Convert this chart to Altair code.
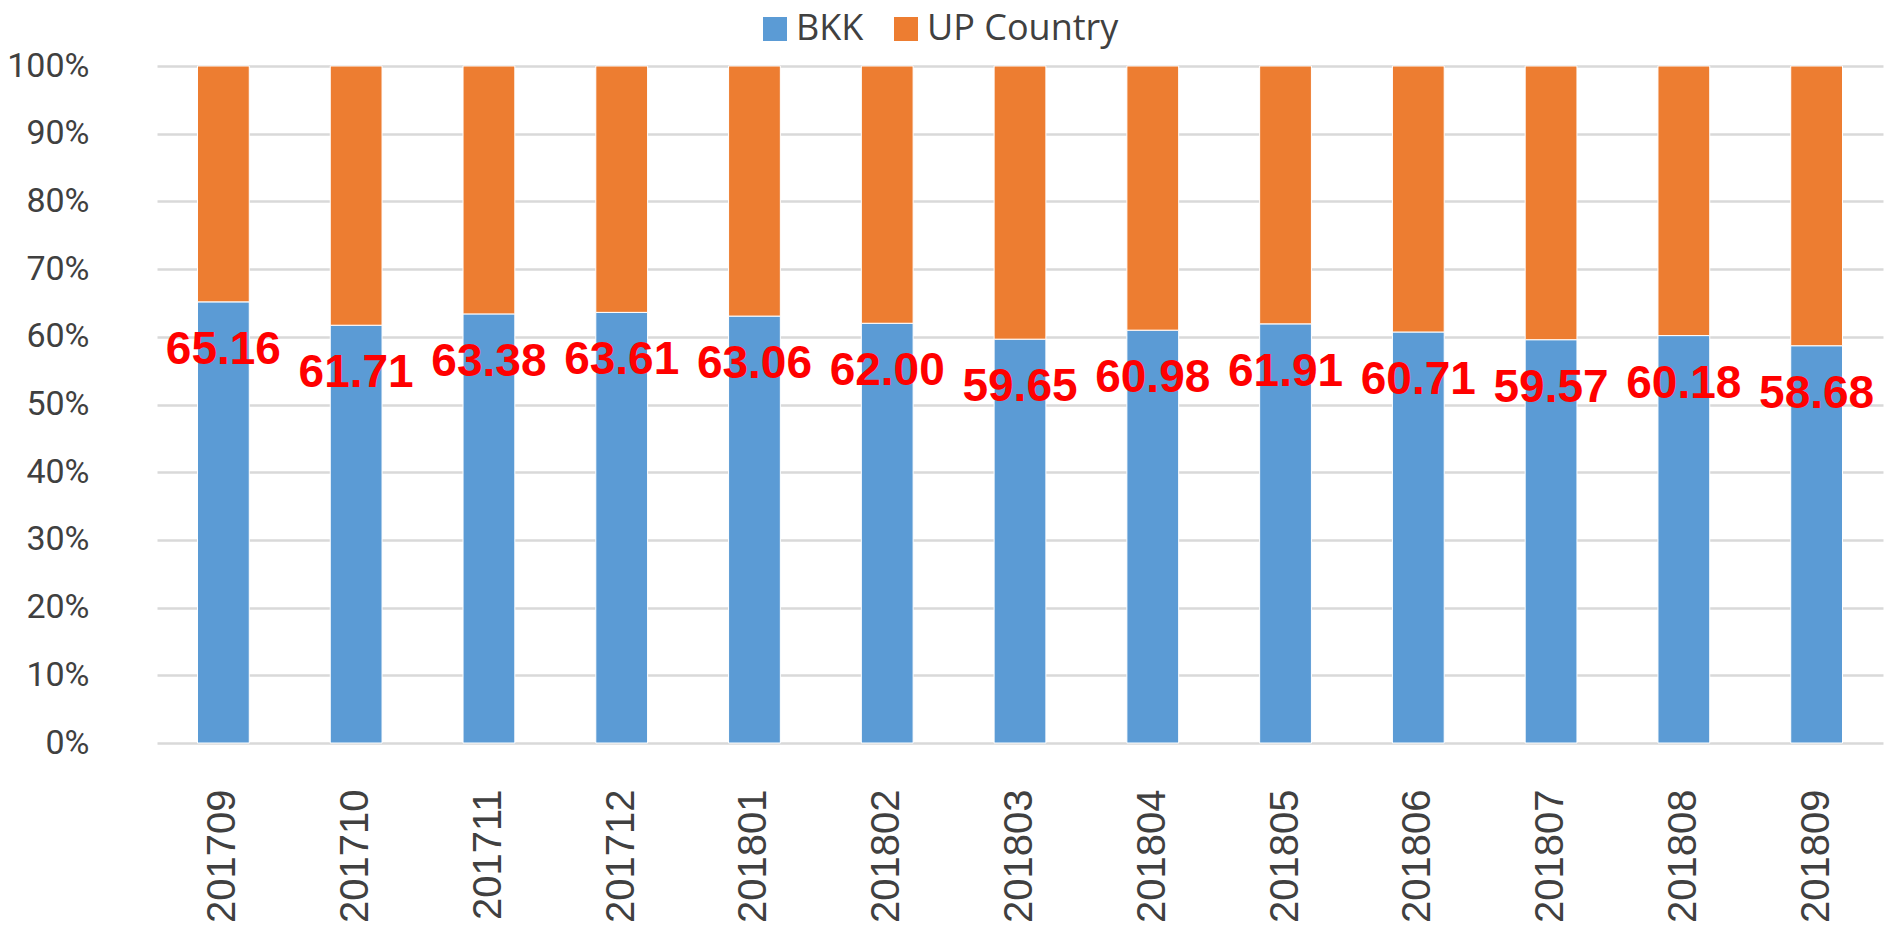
import altair as alt
import pandas as pd

months = ["201709", "201710", "201711", "201712", "201801", "201802", "201803",
          "201804", "201805", "201806", "201807", "201808", "201809"]
bkk = [65.16, 61.71, 63.38, 63.61, 63.06, 62.00, 59.65, 60.98, 61.91, 60.71, 59.57, 60.18, 58.68]
up_country = [34.84, 38.29, 36.62, 36.39, 36.94, 38.00, 40.35, 39.02, 38.09, 39.29, 40.43, 39.82, 41.32]
series_names = ["BKK", "UP Country"]
series_colors = ["#5B9BD5", "#ED7D31"]
y_ticks = [0, 10, 20, 30, 40, 50, 60, 70, 80, 90, 100]

rows = []
for m, b, u in zip(months, bkk, up_country):
    rows.append({"month": m, "series": "BKK", "value": b, "ord": 0})
    rows.append({"month": m, "series": "UP Country", "value": u, "ord": 1})
df = pd.DataFrame(rows)
lab = pd.DataFrame({"month": months, "bkk": bkk, "label": [f"{v:.2f}" for v in bkk]})

xenc = alt.X(
    "month:N", sort=months,
    scale=alt.Scale(paddingInner=0.61, paddingOuter=0.305),
    axis=alt.Axis(title=None, labelAngle=-90, labelFont="Liberation Sans", labelFontSize=40,
                  labelColor="#404040", labelPadding=46, ticks=False, domain=False,
                  grid=False, labelOverlap=False),
)

bars = alt.Chart(df).mark_bar(stroke="white", strokeWidth=1).encode(
    x=xenc,
    y=alt.Y("value:Q", stack="zero", scale=alt.Scale(domain=[0, 100], nice=False),
            axis=alt.Axis(title=None, values=y_ticks, labelExpr="datum.value + '%'",
                          labelFont="Roboto", labelFontSize=34, labelColor="#404040",
                          labelPadding=68, ticks=False, domain=False, grid=True,
                          gridColor="#D9D9D9", gridWidth=2.5)),
    color=alt.Color("series:N", scale=alt.Scale(domain=series_names, range=series_colors),
                    legend=alt.Legend(title=None, orient="none", direction="horizontal",
                                      legendX=600, legendY=-55, symbolType="square",
                                      symbolSize=576, symbolStrokeWidth=0,
                                      labelFont="Open Sans", labelFontSize=36,
                                      labelColor="#404040", labelOffset=3, labelLimit=600,
                                      columnPadding=24, padding=0)),
    order=alt.Order("ord:Q", sort="ascending"),
)

texts = alt.Chart(lab).mark_text(
    font="Liberation Sans", fontWeight="bold", fontSize=46, color="#FF0000",
    baseline="middle", align="center", dy=48,
).encode(
    x=alt.X("month:N", sort=months),
    y=alt.Y("bkk:Q"),
    text="label:N",
)

chart = alt.layer(bars, texts).properties(
    width=1726, height=677,
    autosize=alt.AutoSizeParams(type="none"),
    padding={"left": 149, "top": 58, "right": 5, "bottom": 179},
).configure_view(stroke=None)

chart.save("out.html", embed_options={"renderer": "svg", "actions": False})
